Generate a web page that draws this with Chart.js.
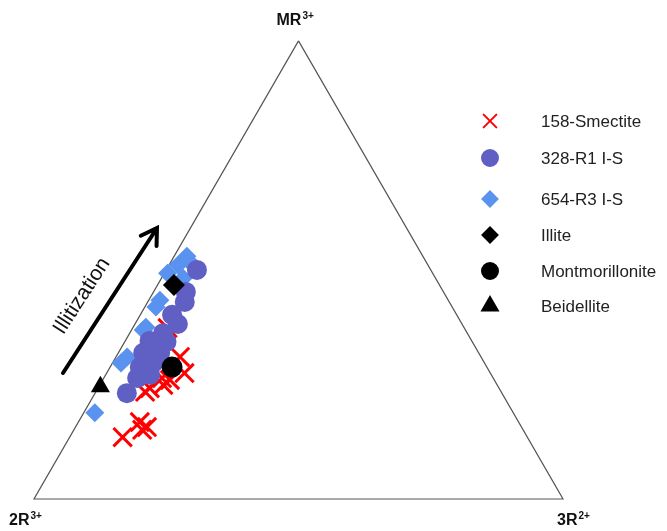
<!DOCTYPE html>
<html>
<head>
<meta charset="utf-8">
<script src="https://cdn.jsdelivr.net/npm/chart.js@4.4.1/dist/chart.umd.min.js"></script>
<style>
  body { margin: 0; background: #fff; }
  canvas { display: block; }
</style>
</head>
<body>
<canvas id="ternary" width="667" height="531"></canvas>
<script>
// Compositions in % of the octahedral sites: MR3+ (top), 3R2+ (right), 2R3+ = rest
const vertexLabels = [
    { main: "MR", sup: "3+" },
    { main: "2R", sup: "3+" },
    { main: "3R", sup: "2+" }
];
const triangleMR = [100, 0, 0, 100];
const triangle3R = [0, 0, 100, 0];

const smectiteMR = [31.0, 27.5, 26.0, 26.4, 24.9, 24.2, 23.4, 37.3, 13.5, 16.8, 15.7, 15.1];
const smectite3R = [12.1, 14.7, 12.7, 11.0, 12.0, 9.8, 9.3, 6.6, 10.0, 11.6, 13.5, 12.9];

const r1MR = [50.0, 45.2, 43.0, 40.2, 38.2, 34.5, 34.3, 31.9, 31.9, 28.8, 29.7, 26.4, 27.1, 23.1, 36.2];
const r13R = [5.8, 6.1, 7.0, 6.0, 8.1, 4.6, 7.9, 4.7, 7.9, 5.6, 7.7, 6.3, 8.4, 6.0, 6.3];

const r3MR = [53.0, 50.9, 51.1, 49.3, 48.2, 43.4, 41.9, 37.5, 36.9, 35.1, 31.0, 29.7, 18.8];
const r33R = [2.4, 4.7, 1.7, 0.6, 4.1, 2.1, 2.1, 2.4, 2.2, 4.3, 2.1, 1.6, 2.1];

const illiteMR = [46.7], illite3R = [3.1];
const montMR = [28.8], mont3R = [11.7];
const beidMR = [24.5], beid3R = [0.3];

// ternary -> cartesian (2R3+ corner at origin, side length 1)
function toXY(mr, r3) {
    return mr.map((m, i) => ({ x: (r3[i] + m / 2) / 100, y: (m / 100) * Math.sqrt(3) / 2 }));
}

// triangle placement on the canvas (px)
const left = 34, base = 499, side = 529;
const W = 667, H = 531;

const datasets = [
    { label: "Illite", data: toXY(illiteMR, illite3R), pointStyle: "rectRot", pointRadius: 11,
      backgroundColor: "#000", borderWidth: 0, order: 0 },
    { label: "Montmorillonite", data: toXY(montMR, mont3R), pointStyle: "circle", pointRadius: 10.5,
      backgroundColor: "#000", borderWidth: 0, order: 0 },
    { label: "Beidellite", data: toXY(beidMR, beid3R), pointStyle: "triangle", pointRadius: 11,
      backgroundColor: "#000", borderWidth: 0, order: 0 },
    { label: "328-R1 I-S", data: toXY(r1MR, r13R), pointStyle: "circle", pointRadius: 10,
      backgroundColor: "#5f5fc4", borderWidth: 0, order: 1 },
    { label: "654-R3 I-S", data: toXY(r3MR, r33R), pointStyle: "rectRot", pointRadius: 9.5,
      backgroundColor: "#5a92f0", borderWidth: 0, order: 2 },
    { label: "158-Smectite", data: toXY(smectiteMR, smectite3R), pointStyle: "crossRot", pointRadius: 13,
      borderColor: "#ff0000", borderWidth: 3, order: 3 },
    { label: "frame", data: toXY(triangleMR, triangle3R), showLine: true, pointRadius: 0,
      borderColor: "#555", borderWidth: 1.2, order: 10 }
];

// legend rows drawn by hand, in the reference's order
const legendRows = [
    { text: "158-Smectite", style: "crossRot", color: "#ff0000", r: 9, y: 121 },
    { text: "328-R1 I-S", style: "circle", color: "#5f5fc4", r: 8, y: 158 },
    { text: "654-R3 I-S", style: "rectRot", color: "#5a92f0", r: 7.5, y: 199 },
    { text: "Illite", style: "rectRot", color: "#000", r: 7.5, y: 235 },
    { text: "Montmorillonite", style: "circle", color: "#000", r: 8, y: 271 },
    { text: "Beidellite", style: "triangle", color: "#000", r: 9, y: 306 }
];

const decor = {
    id: "decor",
    afterDraw(chart) {
        const c = chart.ctx;
        const sx = chart.scales.x, sy = chart.scales.y;
        const corners = toXY([100, 0, 0], [0, 0, 100]).map(p => ({ x: sx.getPixelForValue(p.x), y: sy.getPixelForValue(p.y) }));
        c.save();
        c.fillStyle = "#111";
        c.textBaseline = "alphabetic";

        // vertex labels
        const offs = [[-22, -16], [-25, 26], [-6, 26]];
        vertexLabels.forEach((lab, i) => {
            const px = corners[i].x + offs[i][0], py = corners[i].y + offs[i][1];
            c.font = "bold 16px 'Liberation Sans', Arial, sans-serif";
            c.fillText(lab.main, px, py);
            const w = c.measureText(lab.main).width;
            c.font = "bold 10px 'Liberation Sans', Arial, sans-serif";
            c.fillText(lab.sup, px + w + 1, py - 6);
        });

        // illitization arrow
        const x0 = 63, y0 = 373, x1 = 157, y1 = 228;
        const ang = Math.atan2(y1 - y0, x1 - x0);
        c.strokeStyle = "#000";
        c.lineWidth = 4;
        c.lineCap = "round";
        c.beginPath();
        c.moveTo(x0, y0);
        c.lineTo(x1, y1);
        c.moveTo(x1 - 18 * Math.cos(ang - 0.55), y1 - 18 * Math.sin(ang - 0.55));
        c.lineTo(x1, y1);
        c.lineTo(x1 - 18 * Math.cos(ang + 0.55), y1 - 18 * Math.sin(ang + 0.55));
        c.stroke();

        c.translate(82, 296);
        c.rotate(ang);
        c.font = "21px 'Liberation Sans', Arial, sans-serif";
        c.textAlign = "center";
        c.textBaseline = "middle";
        c.fillStyle = "#111";
        c.fillText("Illitization", 0, 0);
        c.setTransform(1, 0, 0, 1, 0, 0);

        // legend
        c.textAlign = "left";
        c.font = "17px 'Liberation Sans', Arial, sans-serif";
        legendRows.forEach(row => {
            c.fillStyle = row.color;
            c.strokeStyle = row.color;
            c.lineWidth = row.style === "crossRot" ? 2 : 0;
            Chart.helpers.drawPoint(c, { pointStyle: row.style, radius: row.r, borderWidth: c.lineWidth, rotation: 0 }, 490, row.y);
            c.fillStyle = "#222";
            c.fillText(row.text, 541, row.y + 1);
        });
        c.restore();
    }
};

const ctx = document.getElementById("ternary").getContext("2d");
new Chart(ctx, {
    type: "scatter",
    data: { datasets: datasets },
    options: {
        responsive: false,
        animation: false,
        layout: { padding: 0, autoPadding: false },
        plugins: { legend: { display: false }, tooltip: { enabled: false } },
        scales: {
            x: { type: "linear", display: false, min: -left / side, max: (W - left) / side },
            y: { type: "linear", display: false, min: -(H - base) / side, max: base / side }
        }
    },
    plugins: [decor]
});
</script>
</body>
</html>
